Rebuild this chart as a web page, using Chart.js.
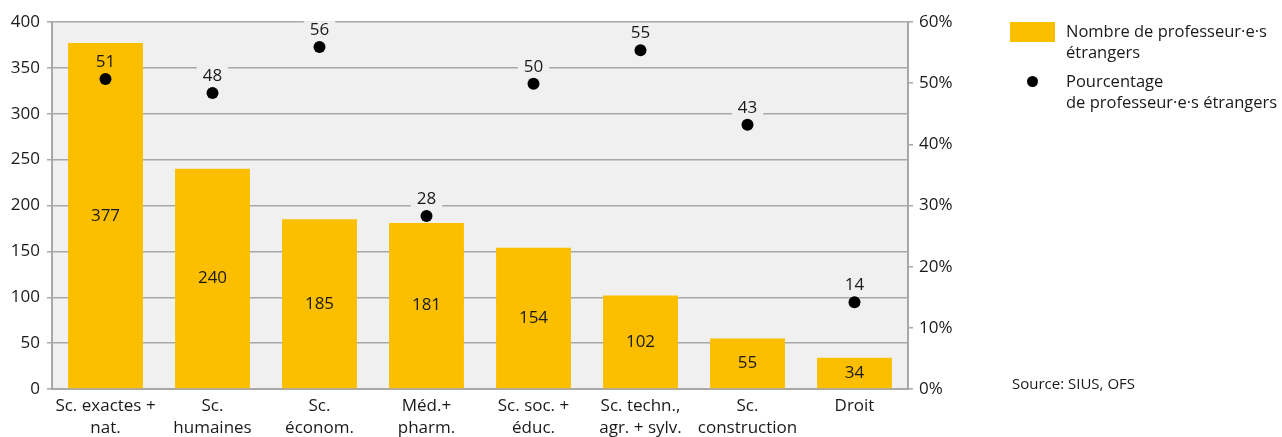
<!DOCTYPE html>
<html><head><meta charset="utf-8">
<script src="https://cdn.jsdelivr.net/npm/chart.js@4/dist/chart.umd.min.js"></script>
<style>
html,body{margin:0;padding:0;background:#fff;}
#wrap{position:relative;width:1282px;height:437px;font-family:"Open Sans",sans-serif;color:#1a1a1a;overflow:hidden;}
canvas{position:absolute;left:0;top:0;}
.lg{position:absolute;font-size:16.5px;line-height:21px;color:#1a1a1a;white-space:nowrap;}
</style></head>
<body>
<div id="wrap">
<canvas id="c" width="1282" height="437"></canvas>
<div style="position:absolute;left:1010px;top:22px;width:45px;height:20px;background:#fbbf00"></div>
<div class="lg" style="left:1066px;top:20px;">Nombre de professeur·e·s<br>étrangers</div>
<div style="position:absolute;left:1027px;top:76px;width:11px;height:11px;border-radius:50%;background:#000"></div>
<div class="lg" style="left:1066px;top:70px;">Pourcentage<br>de professeur·e·s étrangers</div>
<div class="lg" style="left:1012px;top:373px;font-size:15px;">Source: SIUS, OFS</div>
</div>
<script>
const categories = [["Sc. exactes +","nat."],["Sc.","humaines"],["Sc.","économ."],["Méd.+","pharm."],["Sc. soc. +","éduc."],["Sc. techn.,","agr. + sylv."],["Sc.","construction"],["Droit",""]];
const professorCounts = [377, 240, 185, 181, 154, 102, 55, 34];
const foreignPercent = [50.7, 48.4, 55.9, 28.3, 49.9, 55.4, 43.2, 14.2];
const leftTicks = [0, 50, 100, 150, 200, 250, 300, 350, 400];
const rightTicks = [0, 10, 20, 30, 40, 50, 60];

const PLOT_BG = '#eff0ef';
const GRID = '#a8a8a8';
const FONT = '"Open Sans", sans-serif';

const bgPlugin = {
  id: 'bg',
  beforeDraw(chart) {
    const a = chart.chartArea, ctx = chart.ctx;
    ctx.save(); ctx.fillStyle = PLOT_BG;
    ctx.fillRect(a.left, a.top, a.right - a.left, a.bottom - a.top);
    ctx.restore();
  }
};
const labelPlugin = {
  id: 'labels',
  afterDatasetsDraw(chart) {
    const ctx = chart.ctx;
    ctx.save();
    ctx.font = '17px ' + FONT;
    ctx.textAlign = 'center'; ctx.textBaseline = 'middle';
    const barMeta = chart.getDatasetMeta(1);
    barMeta.data.forEach((el, i) => {
      const y = (el.y + el.base) / 2;
      ctx.fillStyle = '#1a1a1a';
      ctx.fillText(String(professorCounts[i]), el.x, y);
    });
    const ptMeta = chart.getDatasetMeta(0);
    ptMeta.data.forEach((el, i) => {
      const txt = String(Math.round(foreignPercent[i]));
      const y = el.y - 17;
      const w = ctx.measureText(txt).width + 12;
      const inBar = (y > barMeta.data[i].y);
      if (!inBar) { ctx.fillStyle = PLOT_BG; ctx.fillRect(el.x - w/2, y - 9, w, 18); }
      ctx.fillStyle = '#1a1a1a';
      ctx.fillText(txt, el.x, y);
    });
    ctx.restore();
  }
};

new Chart(document.getElementById('c'), {
  data: {
    labels: categories,
    datasets: [
      { type: 'line', data: foreignPercent, yAxisID: 'y1', showLine: false,
        pointRadius: 6, pointHoverRadius: 6, pointBackgroundColor: '#000', pointBorderColor: '#000', pointBorderWidth: 0, order: 0 },
      { type: 'bar', data: professorCounts, yAxisID: 'y', backgroundColor: '#fbbf00',
        barPercentage: 0.7, categoryPercentage: 1.0, order: 1 }
    ]
  },
  options: {
    responsive: false, animation: false, devicePixelRatio: 1,
    layout: { padding: { top: 22, right: 314, bottom: 0, left: 0 } },
    plugins: { legend: { display: false }, tooltip: { enabled: false } },
    scales: {
      x: {
        grid: { display: false, drawTicks: false },
        border: { display: true, color: GRID, width: 2 },
        ticks: { color: '#1a1a1a', font: { size: 17, family: FONT, lineHeight: 1.25 }, padding: 7, maxRotation: 0, autoSkip: false },
        afterFit(s) { s.height = 48; }
      },
      y: {
        position: 'left', min: 0, max: 400,
        afterBuildTicks(s) { s.ticks = leftTicks.map(v => ({ value: v })); },
        grid: { color: GRID, lineWidth: 1.5, tickLength: 5, drawTicks: true },
        border: { display: true, color: GRID, width: 2 },
        ticks: { color: '#1a1a1a', font: { size: 17, family: FONT }, padding: 7 },
        afterFit(s) { s.width = 52; }
      },
      y1: {
        position: 'right', min: 0, max: 60,
        afterBuildTicks(s) { s.ticks = rightTicks.map(v => ({ value: v })); },
        grid: { drawOnChartArea: false, color: GRID, lineWidth: 1.5, tickLength: 5 },
        border: { display: true, color: GRID, width: 2 },
        ticks: { color: '#1a1a1a', font: { size: 17, family: FONT }, padding: 6, callback: v => v + '%' },
        afterFit(s) { s.width = 60; }
      }
    }
  },
  plugins: [bgPlugin, labelPlugin]
});
</script>
</body></html>
